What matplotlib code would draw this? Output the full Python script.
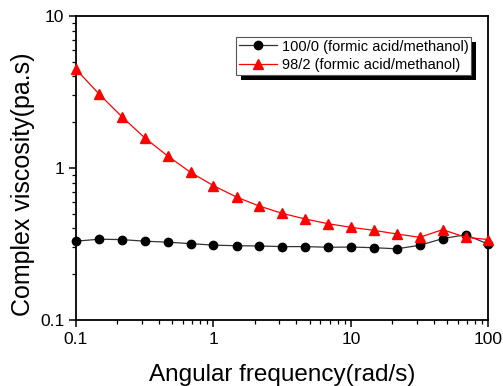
import matplotlib
matplotlib.use("Agg")
import matplotlib.pyplot as plt
from matplotlib.patches import Rectangle
from matplotlib.transforms import IdentityTransform

plt.rcParams['font.family'] = ['Liberation Sans', 'DejaVu Sans']

freq = [0.1, 0.147, 0.215, 0.316, 0.464, 0.681, 1, 1.47, 2.15, 3.16,
        4.64, 6.81, 10, 14.7, 21.5, 31.6, 46.4, 68.1, 100]
visc_100_0 = [0.330, 0.340, 0.338, 0.330, 0.325, 0.318, 0.311, 0.308, 0.307, 0.304,
              0.304, 0.301, 0.302, 0.299, 0.294, 0.310, 0.343, 0.364, 0.315]
visc_98_2 = [4.46, 3.07, 2.18, 1.58, 1.20, 0.937, 0.765, 0.644, 0.562, 0.503,
             0.462, 0.430, 0.407, 0.389, 0.368, 0.350, 0.393, 0.350, 0.338]
labels = ["100/0 (formic acid/methanol)", "98/2 (formic acid/methanol)"]

fig = plt.figure(figsize=(5.03, 3.86), dpi=100)
ax = fig.add_axes([76 / 503, 1 - 320 / 386, (488.5 - 76) / 503, (320 - 16) / 386])

ax.plot(freq, visc_100_0, color='#333333', lw=0.9, marker='o', ms=6,
        mfc='black', mec='black', label=labels[0], clip_on=False, zorder=3)
ax.plot(freq, visc_98_2, color='red', lw=0.9, marker='^', ms=6.5,
        mfc='red', mec='red', label=labels[1], clip_on=False, zorder=3)

ax.set_xscale('log')
ax.set_yscale('log')
ax.set_xlim(0.1, 100)
ax.set_ylim(0.1, 10)
ax.set_xticks([0.1, 1, 10, 100])
ax.set_xticklabels(['0.1', '1', '10', '100'])
ax.set_yticks([0.1, 1, 10])
ax.set_yticklabels(['0.1', '1', '10'])

for s in ax.spines.values():
    s.set_linewidth(1.3)
ax.tick_params(which='major', direction='out', length=5, width=1.1, labelsize=12.5,
               top=False, right=False)
ax.tick_params(which='minor', direction='out', length=3, width=0.9,
               top=False, right=False)

ax.set_xlabel('Angular frequency(rad/s)', fontsize=17.5)
ax.set_ylabel('Complex viscosity(pa.s)', fontsize=18)
ax.xaxis.set_label_coords(0.499, -0.145)
ax.yaxis.set_label_coords(-0.099, 0.447)

leg = ax.legend(loc='upper right', bbox_to_anchor=(0.958, 0.932), fontsize=10.5,
                frameon=True, fancybox=False, edgecolor='#555555', framealpha=1,
                borderpad=0.2, handlelength=2.6, handletextpad=0.3,
                labelspacing=0.3, borderaxespad=0)
leg.get_frame().set_linewidth(0.8)
leg.set_zorder(5)

fig.canvas.draw()
bb = leg.get_window_extent()
shadow = Rectangle((bb.x0 + 5, bb.y0 - 5), bb.width, bb.height,
                   transform=IdentityTransform(), facecolor='black',
                   edgecolor='none', zorder=4, clip_on=False)
ax.add_artist(shadow)

fig.savefig('out.png', dpi=100)
